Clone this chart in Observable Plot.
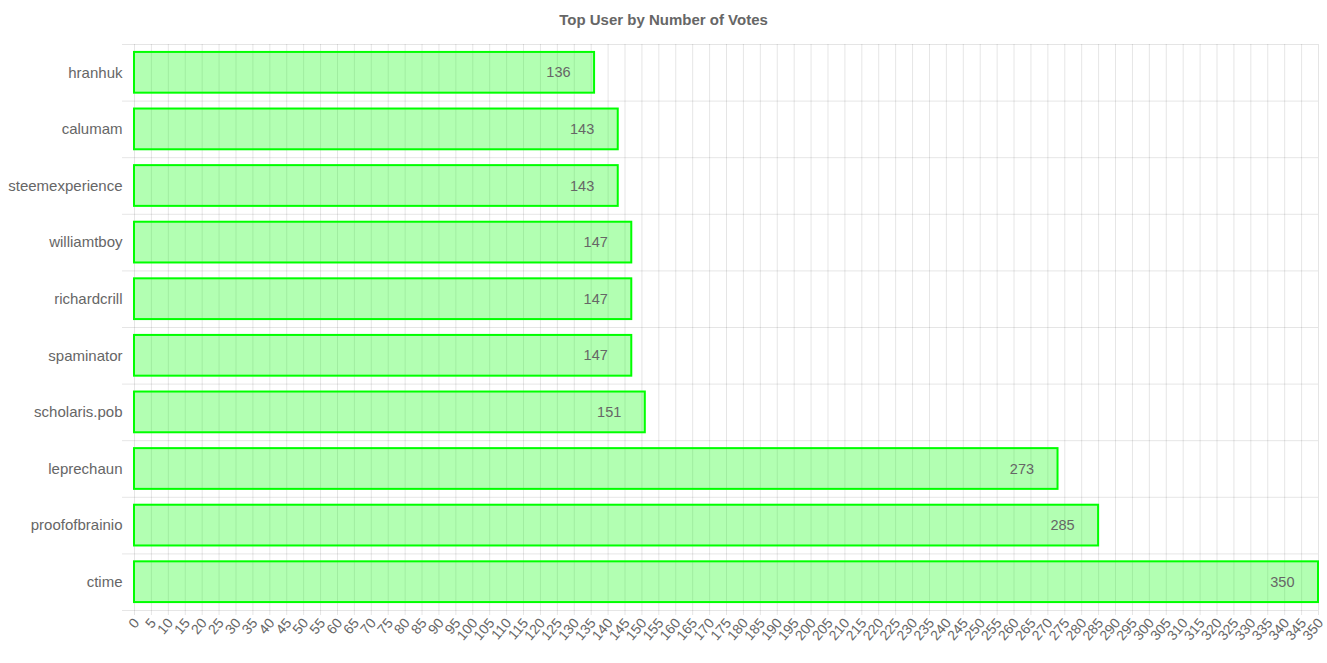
<!DOCTYPE html>
<html>
<head>
<meta charset="utf-8">
<script src="https://cdn.jsdelivr.net/npm/d3@7"></script>
<script src="https://cdn.jsdelivr.net/npm/@observablehq/plot@0.6"></script>
<style>
  html, body { margin: 0; padding: 0; background: #fff; }
  #title { height: 40px; font: bold 15px "Liberation Sans", Arial, sans-serif; line-height: 40px; text-align: center; color: #666; }
  #chart svg { display: block; }
</style>
</head>
<body>
<div id="title">Top User by Number of Votes</div>
<div id="chart"></div>
<script>
const users = ["hranhuk", "calumam", "steemexperience", "williamtboy", "richardcrill", "spaminator", "scholaris.pob", "leprechaun", "proofofbrainio", "ctime"];
const votes = [136, 143, 143, 147, 147, 147, 151, 273, 285, 350];
const xTicks = d3.range(0, 351, 5);

const data = users.map((u, i) => ({user: u, votes: votes[i]}));

const W = 1327, H = 623;
const mTop = 4, mBottom = 53, mLeft = 134, mRight = 9;
const step = (H - mTop - mBottom) / users.length;
const grid = "rgba(0,0,0,0.1)";

const chart = Plot.plot({
  width: W,
  height: H,
  marginTop: mTop,
  marginBottom: mBottom,
  marginLeft: mLeft,
  marginRight: mRight,
  style: { fontFamily: "'Liberation Sans', Arial, sans-serif", color: "#666", background: "#fff" },
  x: { domain: [0, 350], axis: null },
  y: { domain: users, paddingInner: 0.28, paddingOuter: 0.14, round: false, axis: null },
  marks: [
    Plot.ruleX(xTicks, { x: d => d, stroke: grid, strokeWidth: 1, insetBottom: -5 }),
    Plot.ruleY(users, { y: d => d, dy: -step / 2, stroke: grid, insetLeft: -12 }),
    Plot.ruleY(users.slice(-1), { y: d => d, dy: step / 2, stroke: grid, insetLeft: -12 }),
    Plot.barX(data, { x: "votes", y: "user", fill: "rgba(0,255,0,0.3)", stroke: "#00ff00", strokeWidth: 2 }),
    Plot.text(data, { x: "votes", y: "user", text: d => String(d.votes), textAnchor: "end", dx: -24, fontSize: 14.5, fill: "#666" }),
    Plot.axisY({ tickSize: 0, tickPadding: 12, fontSize: 15, color: "#666", label: null }),
    Plot.text(xTicks, { x: d => d, frameAnchor: "bottom", text: d => String(d), rotate: -50, textAnchor: "end", lineAnchor: "middle", dy: 10, dx: 2, fontSize: 14, fill: "#666" })
  ]
});
document.getElementById("chart").appendChild(chart);
</script>
</body>
</html>
